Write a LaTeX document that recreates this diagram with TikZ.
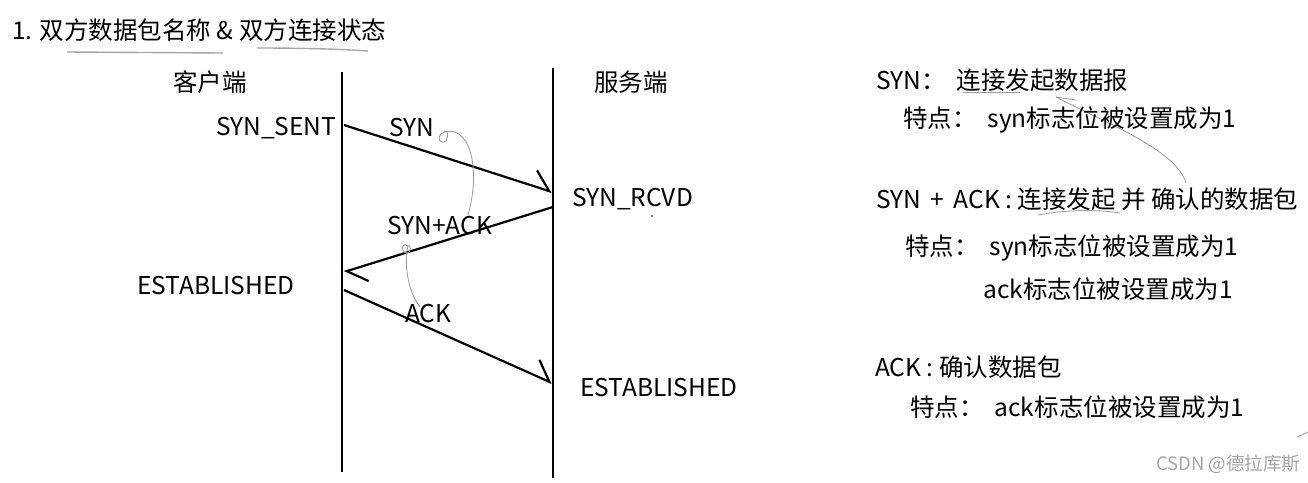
\documentclass[tikz,border=0pt]{standalone}
\usepackage{fontspec}
\setmainfont{Noto Sans CJK SC}
\usetikzlibrary{arrows.meta}
\tikzset{
  txt/.style={anchor=west,inner sep=0pt,font=\fontsize{24.5}{28}\selectfont,text=black},
  lifeline/.style={line width=2.8pt,black},
  msg/.style={line width=2.2pt,black,-{Straight Barb[left,length=18pt,width=32pt,line width=2.2pt]}},
  scribble/.style={gray!80,line width=0.8pt},
  uline/.style={gray!70,line width=1.4pt},
}
\begin{document}
\begin{tikzpicture}[x=1pt,y=-1pt]
\useasboundingbox[fill=white] (0,0) rectangle (1308,482);
% title
\node[txt] (title) at (12,30) {1. 双方数据包名称 \& 双方连接状态};
\draw[uline] (67,52) -- (223,53);
\draw[uline] (257,48) .. controls (300,48) and (340,49) .. (368,51);
% lifelines
\coordinate (ctop) at (342,72); \coordinate (cbot) at (342,472);
\coordinate (stop) at (553,68); \coordinate (sbot) at (553,478);
\draw[lifeline] (ctop) -- (cbot);
\draw[lifeline] (stop) -- (sbot);
\node[txt,anchor=center] (client) at (210,82) {客户端};
\node[txt,anchor=center] (server) at (631,82) {服务端};
% states
\node[txt] (synsent) at (216,128) {SYN\_SENT};
\node[txt] (synrcvd) at (572,199) {SYN\_RCVD};
\node[txt] (estc) at (137,286) {ESTABLISHED};
\node[txt] (ests) at (580,388) {ESTABLISHED};
% messages
\coordinate (m1a) at (344,125); \coordinate (m1b) at (552,192);
\coordinate (m2a) at (553,207); \coordinate (m2b) at (344,272);
\coordinate (m3a) at (344,290); \coordinate (m3b) at (552,383);
\draw[msg] (m1a) -- (m1b);
\draw[msg] (m2a) -- (m2b);
\draw[msg] (m3a) -- (m3b);
\node[txt] (lsyn) at (389,128) {SYN};
\node[txt] (lsynack) at (387,226) {SYN+ACK};
\node[txt] (lack) at (405,314) {ACK};
% scribbles
\draw[scribble] (468,215) .. controls (482,165) and (468,122) .. (442,133)
  .. controls (436,138) and (440,145) .. (446,141) .. controls (449,135) and (448,130) .. (444,131);
\draw[scribble] (420,307) .. controls (407,290) and (404,262) .. (408,246)
  .. controls (404,242) and (400,248) .. (404,252) .. controls (408,256) and (413,250) .. (409,245);
\draw[scribble] (1186,183) .. controls (1176,150) and (1110,125) .. (1056,97);
\draw[scribble] (1056,97) .. controls (1062,98) and (1070,99) .. (1076,100);
\draw[scribble] (963,92) -- (1020,92);
\draw[scribble] (1038,215) .. controls (1065,210) and (1095,209) .. (1120,213);
\draw[scribble] (1297,437) -- (1308,432);
\fill[black] (652,216) circle (0.8pt);
% right-hand notes
\node[txt] (n1) at (876,80) {SYN：\ \ 连接发起数据报};
\node[txt] (n1a) at (903,120) {特点：\ \ syn标志位被设置成为1};
\node[txt] (n2) at (876,199) {SYN\ \,+\ \,ACK : 连接发起 并 确认的数据包};
\node[txt] (n2a) at (905,248) {特点：\ \ syn标志位被设置成为1};
\node[txt] (n2b) at (983,289) {ack标志位被设置成为1};
\node[txt] (n3) at (875,367) {ACK : 确认数据包};
\node[txt] (n3a) at (910,407) {特点：\ \ ack标志位被设置成为1};
\node[anchor=west,inner sep=0pt,font=\fontsize{18.5}{21}\selectfont,text=gray!70] (wm) at (1156,464) {CSDN @德拉库斯};
\end{tikzpicture}
\end{document}
